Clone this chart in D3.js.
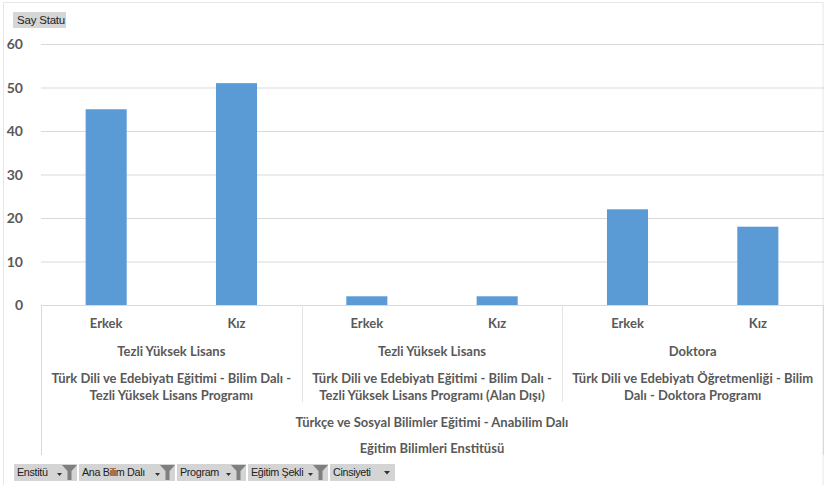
<!DOCTYPE html>
<html><head><meta charset="utf-8">
<script src="https://cdn.jsdelivr.net/npm/d3@7"></script>
<style>body{margin:0;background:#fff}svg{display:block}</style>
</head><body>
<script>
const genders = ["Erkek","Kız","Erkek","Kız","Erkek","Kız"];
const values = [45, 51, 2, 2, 22, 18];
const programTypes = ["Tezli Yüksek Lisans","Tezli Yüksek Lisans","Doktora"];
const programNames = [
  ["Türk Dili ve Edebiyatı Eğitimi - Bilim Dalı -","Tezli Yüksek Lisans Programı"],
  ["Türk Dili ve Edebiyatı Eğitimi - Bilim Dalı -","Tezli Yüksek Lisans Programı (Alan Dışı)"],
  ["Türk Dili ve Edebiyatı Öğretmenliği - Bilim","Dalı - Doktora Programı"]
];
const anabilim = "Türkçe ve Sosyal Bilimler Eğitimi - Anabilim Dalı";
const enstitu = "Eğitim Bilimleri Enstitüsü";
const yTicks = [0,10,20,30,40,50,60];
const filterButtons = ["Enstitü","Ana Bilim  Dalı","Program","Eğitim  Şekli","Cinsiyeti"];
const valueButton = "Say Statu";

const W=824,H=485;
const svg=d3.select("body").append("svg").attr("width",W).attr("height",H);
svg.append("rect").attr("x",3.5).attr("y",2.5).attr("width",819.5).attr("height",H).attr("fill","#fff").attr("stroke","#e6e6e6");

const pL=41,pR=823,pT=44,pB=305;
const x=d3.scaleBand().domain(d3.range(values.length)).range([pL,pR]).padding(0);
const y=d3.scaleLinear().domain([0,60]).range([pB,pT]);
const lab="#595959", line="#d9d9d9";
const font="Lato, 'Open Sans', sans-serif";

// grid
svg.append("g").selectAll("line").data(yTicks.slice(1)).join("line")
  .attr("x1",pL).attr("x2",W).attr("y1",d=>y(d)+0.5).attr("y2",d=>y(d)+0.5)
  .attr("stroke",line).attr("stroke-width",1);
// y labels
svg.append("g").selectAll("text").data(yTicks).join("text")
  .attr("x",23).attr("y",d=>y(d)).attr("dy","0.36em").attr("text-anchor","end")
  .attr("font-family",font).attr("font-weight","bold").attr("font-size",14).attr("fill",lab).text(d=>d);

// bars
const bw=x.bandwidth()*0.315;
svg.append("g").selectAll("rect").data(values).join("rect")
  .attr("x",(d,i)=>x(i)+x.bandwidth()/2-bw/2).attr("width",bw)
  .attr("y",d=>y(d)).attr("height",d=>y(0)-y(d)).attr("fill","#5b9bd5");

// baseline
svg.append("line").attr("x1",pL).attr("x2",pR).attr("y1",pB+0.5).attr("y2",pB+0.5).attr("stroke",line);
// vertical dividers
const grpW=x.bandwidth()*2;
[0,1,2,3].forEach(g=>{
  const xx=pL+g*grpW;
  const full=(g===0||g===3);
  svg.append("line").attr("x1",Math.round(xx)+0.5).attr("x2",Math.round(xx)+0.5)
    .attr("y1",pB).attr("y2",full?455:402).attr("stroke",full?"#d9d9d9":"#e4e4e4");
});

const tx=(sel)=>sel.attr("font-family",font).attr("font-weight","bold").attr("font-size",13).attr("fill",lab).attr("text-anchor","middle");
// gender labels
svg.append("g").selectAll("text").data(genders).join("text").call(tx)
  .attr("x",(d,i)=>x(i)+x.bandwidth()/2).attr("y",323).attr("dy","0.35em").text(d=>d);
// program types
svg.append("g").selectAll("text").data(programTypes).join("text").call(tx)
  .attr("x",(d,i)=>pL+grpW*(i+0.5)).attr("y",351).attr("dy","0.35em").text(d=>d);
// program names
programNames.forEach((lines,i)=>{
  lines.forEach((l,j)=>{
    svg.append("text").call(tx).attr("x",pL+grpW*(i+0.5)).attr("y",378+j*17).attr("dy","0.35em").text(l);
  });
});
svg.append("text").call(tx).attr("x",(pL+pR)/2).attr("y",422).attr("dy","0.35em").text(anabilim);
svg.append("text").call(tx).attr("x",(pL+pR)/2).attr("y",448).attr("dy","0.35em").text(enstitu);

// value button
const bfont="'Liberation Sans', Arial, sans-serif";
svg.append("rect").attr("x",13).attr("y",12).attr("width",53).attr("height",16).attr("fill","#d6d6d6");
svg.append("text").attr("x",17).attr("y",20).attr("dy","0.35em").attr("font-family",bfont).attr("font-size",11.5).attr("letter-spacing",-0.2).attr("fill","#222").text(valueButton);

// filter buttons
const bx=[14,79,177,248,330,397];
filterButtons.forEach((b,i)=>{
  const x0=bx[i], x1=bx[i+1]-2;
  const g=svg.append("g");
  g.append("rect").attr("x",x0).attr("y",464).attr("width",x1-x0).attr("height",17).attr("fill","#d4d4d4");
  g.append("text").attr("x",x0+3).attr("y",472.5).attr("dy","0.35em").attr("font-family",bfont).attr("font-size",10.8).attr("letter-spacing",-0.35).attr("fill","#222").text(b);
  if(i<4){
    g.append("path").attr("d",`M${x1-20},${473}l5,0l-2.5,3z`).attr("fill","#333");
    g.append("path").attr("d",`M${x1-15},${465}l15,0l-5.5,6l0,9l-4,0l0,-9z`).attr("fill","#7f7f7f");
  } else {
    g.append("path").attr("d",`M${x1-11},${471}l6,0l-3,3.5z`).attr("fill","#333");
  }
});
</script>
</body></html>
